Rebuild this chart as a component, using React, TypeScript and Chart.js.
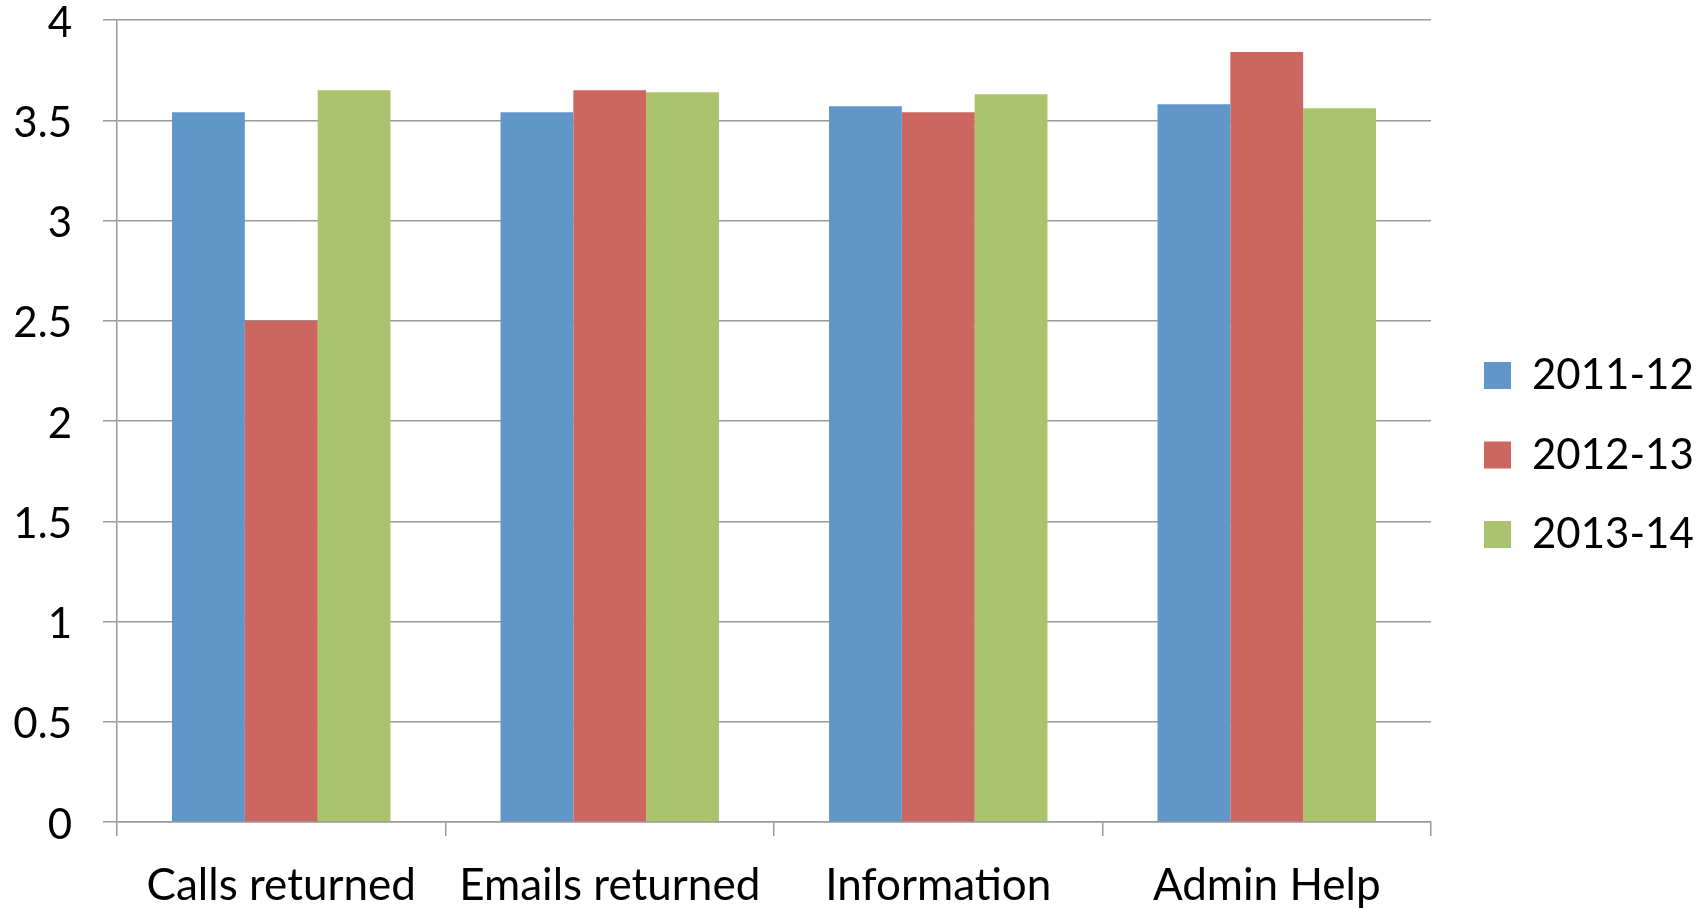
import React, { useEffect, useRef } from 'react';
import { Chart, registerables } from 'chart.js';

Chart.register(...registerables);

const CATEGORIES = ['Calls returned', 'Emails returned', 'Information', 'Admin Help'];
const SERIES_NAMES = ['2011-12', '2012-13', '2013-14'];
const VALUES_2011_12 = [3.54, 3.54, 3.57, 3.58];
const VALUES_2012_13 = [2.5, 3.65, 3.54, 3.84];
const VALUES_2013_14 = [3.65, 3.64, 3.63, 3.56];
const SERIES_COLORS = ['#6196C8', '#CC6660', '#AAC46E'];
const Y_TICK_LABELS = ['0', '0.5', '1', '1.5', '2', '2.5', '3', '3.5', '4'];

const FONT_FAMILY = 'Lato';
const FONT_SIZE = 42;
const X_FONT_SIZE = 44;
const GRID_COLOR = '#9a9a9a';
const Y_AXIS_WIDTH = 117;
const X_AXIS_HEIGHT = 88;
const PLOT_TOP = 20;
const LEGEND_WIDTH = 274;
const LEGEND_PAD = 37.5;
const LEGEND_BOX_X = 1484;

const legendPlacement = {
  id: 'legendPlacement',
  beforeLayout(chart: any) {
    const lg = chart.legend;
    if (lg && !lg.__patched) {
      const orig = lg.fit;
      lg.fit = function () {
        orig.call(this);
        this.width = LEGEND_WIDTH;
      };
      lg.__patched = true;
    }
  },
  afterLayout(chart: any) {
    const lg = chart.legend;
    if (lg) {
      const w = lg.width;
      lg.left = LEGEND_BOX_X - LEGEND_PAD;
      lg.right = lg.left + w;
    }
  },
};

export default function App() {
  const canvasRef = useRef<HTMLCanvasElement | null>(null);

  useEffect(() => {
    const canvas = canvasRef.current;
    if (!canvas) return;
    const seriesValues = [VALUES_2011_12, VALUES_2012_13, VALUES_2013_14];
    const chart = new Chart(canvas, {
      type: 'bar',
      data: {
        labels: CATEGORIES,
        datasets: SERIES_NAMES.map((name, i) => ({
          label: name,
          data: seriesValues[i],
          backgroundColor: SERIES_COLORS[i],
          borderWidth: 0,
          barPercentage: 1,
          categoryPercentage: 0.665,
        })),
      },
      options: {
        responsive: false,
        animation: false,
        devicePixelRatio: 1,
        layout: { padding: { left: 0, right: 0, top: 0, bottom: 0 } },
        plugins: {
          tooltip: { enabled: false },
          title: { display: false },
          legend: {
            display: true,
            position: 'right',
            align: 'center',
            labels: {
              boxWidth: 27,
              boxHeight: 27,
              padding: LEGEND_PAD,
              color: '#000',
              font: { family: FONT_FAMILY, size: FONT_SIZE },
            },
          },
        },
        scales: {
          x: {
            grid: {
              display: true,
              drawOnChartArea: false,
              drawTicks: true,
              tickLength: 14,
              color: GRID_COLOR,
              lineWidth: 1.5,
              offset: true,
            },
            border: { display: true, color: GRID_COLOR, width: 1.5 },
            ticks: {
              color: '#000',
              font: { family: FONT_FAMILY, size: X_FONT_SIZE, lineHeight: 1.0 },
              padding: 28,
              maxRotation: 0,
              autoSkip: false,
            },
            afterFit: (s: any) => {
              s.height = X_AXIS_HEIGHT;
            },
          },
          y: {
            min: 0,
            max: 4,
            ticks: {
              stepSize: 0.5,
              color: '#000',
              font: { family: FONT_FAMILY, size: FONT_SIZE, lineHeight: 0.93 },
              padding: 31,
              labelOffset: 3,
              callback: (_v: any, i: number) => Y_TICK_LABELS[i],
            },
            grid: {
              color: GRID_COLOR,
              lineWidth: 1.5,
              tickLength: 14,
              drawTicks: true,
            },
            border: { display: true, color: GRID_COLOR, width: 1.5 },
            afterFit: (s: any) => {
              s.width = Y_AXIS_WIDTH;
              s.paddingTop = PLOT_TOP;
              s.paddingBottom = 0;
            },
          },
        },
      },
      plugins: [legendPlacement],
    } as any);
    return () => chart.destroy();
  }, []);

  return (
    <div style={{ position: 'fixed', left: 0, top: 0, width: 1705, height: 910, background: '#fff' }}>
      <canvas ref={canvasRef} width={1705} height={910} style={{ display: 'block' }} />
    </div>
  );
}
